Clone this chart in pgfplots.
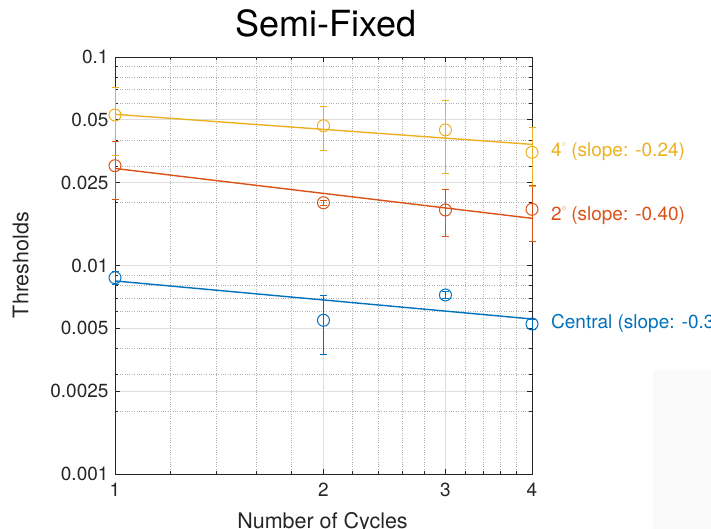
\documentclass[border=0pt]{standalone}
\usepackage{pgfplots}
\pgfplotsset{compat=1.18}
\usepackage{fontspec}
\setmainfont{TeX Gyre Heros}
\definecolor{mblue}{rgb}{0,0.447,0.741}
\definecolor{mred}{rgb}{0.85,0.325,0.098}
\definecolor{myellow}{rgb}{0.929,0.694,0.125}
\definecolor{axgray}{rgb}{0.15,0.15,0.15}
\newcommand{\dg}{\raisebox{1.05ex}{\fontsize{8}{8}\selectfont$\circ$}}
\pgfplotsset{
  ebar/.style={draw=#1, line width=0.9pt, mark=-, mark size=3.5pt,
    mark options={draw=#1, solid, line width=0.9pt}, unbounded coords=jump},
  pts/.style={only marks, mark=o, mark size=6pt,
    mark options={draw=#1, line width=1pt, solid}}
}
\begin{document}
\begin{tikzpicture}[x=1pt,y=1pt]
\fill[black!2] (653,0) rectangle (711,159);
\begin{axis}[
  set layers,
  at={(115pt,55pt)}, anchor=south west,
  scale only axis, width=417pt, height=417pt,
  xmode=log, ymode=log,
  xmin=1, xmax=4, ymin=0.001, ymax=0.1,
  xtick={1,2,3,4}, xticklabels={1,2,3,4},
  ytick={0.001,0.0025,0.005,0.01,0.025,0.05,0.1},
  yticklabels={0.001,0.0025,0.005,0.01,0.025,0.05,0.1},
  minor xtick={1.2,1.4,1.6,1.8,2.2,2.4,2.6,2.8,3.2,3.4,3.6,3.8},
  minor ytick={0.002,0.003,0.004,0.006,0.007,0.008,0.009,0.02,0.03,0.04,0.06,0.07,0.08,0.09},
  grid=both,
  major grid style={black!13, line width=0.7pt},
  minor grid style={black!30, dotted, line width=0.6pt},
  tick align=inside,
  major tick length=5pt, minor tick length=3pt,
  tick style={axgray, line width=0.6pt},
  axis line style={axgray, line width=0.8pt},
  ticklabel style={font=\fontsize{19}{22}\selectfont, text=axgray},
  xticklabel style={yshift=-5pt},
  yticklabel style={xshift=-3pt},
  clip=false,
]
% fitted lines
\addplot[myellow, line width=1.4pt] coordinates {(1,0.0531) (4,0.0381)};
\addplot[mred, line width=1.4pt] coordinates {(1,0.0292) (4,0.01684)};
\addplot[mblue, line width=1.4pt] coordinates {(1,0.00843) (4,0.00554)};
% error bars (low, high)
\addplot[ebar=myellow] coordinates {
  (1,0.0337) (1,0.0717) (1,nan)
  (2,0.0358) (2,0.0578) (2,nan)
  (3,0.0277) (3,0.0617) (3,nan)
  (4,0.0239) (4,0.0460)};
\addplot[ebar=mred] coordinates {
  (1,0.0207) (1,0.0395) (1,nan)
  (2,0.0195) (2,0.0205) (2,nan)
  (3,0.01376) (3,0.02316) (3,nan)
  (4,0.0131) (4,0.0241)};
\addplot[ebar=mblue] coordinates {
  (1,0.00814) (1,0.00934) (1,nan)
  (2,0.00376) (2,0.00716) (2,nan)
  (3,0.00692) (3,0.00752) (3,nan)
  (4,0.00494) (4,0.00554)};
% data points
\addplot[pts=myellow] coordinates {(1,0.0527) (2,0.0468) (3,0.0447) (4,0.0349)};
\addplot[pts=mred] coordinates {(1,0.0301) (2,0.0200) (3,0.01846) (4,0.0186)};
\addplot[pts=mblue] coordinates {(1,0.00874) (2,0.00546) (3,0.00722) (4,0.00524)};
\node[anchor=west, text=myellow, font=\fontsize{19}{22}\selectfont, inner sep=0pt] at (axis cs:4,0.0352) [xshift=19pt] {4\dg\ (slope: -0.24)};
\node[anchor=west, text=mred, font=\fontsize{19}{22}\selectfont, inner sep=0pt] at (axis cs:4,0.01728) [xshift=19pt] {2\dg\ (slope: -0.40)};
\node[anchor=west, text=mblue, font=\fontsize{19}{22}\selectfont, inner sep=0pt] at (axis cs:4,0.00527) [xshift=19pt] {Central (slope: -0.30)};
\end{axis}
\node[anchor=base, font=\fontsize{36}{40}\selectfont, text=black] at (326,492.3) {Semi-Fixed};
\node[anchor=base, rotate=90, font=\fontsize{21.5}{24}\selectfont, text=axgray] at (28.3,264) {Thresholds};
\node[anchor=base, font=\fontsize{21.5}{24}\selectfont, text=axgray] at (322.5,0.5) {Number of Cycles};
\pgfresetboundingbox
\useasboundingbox (0,0) rectangle (711,529);
\end{tikzpicture}
\end{document}
